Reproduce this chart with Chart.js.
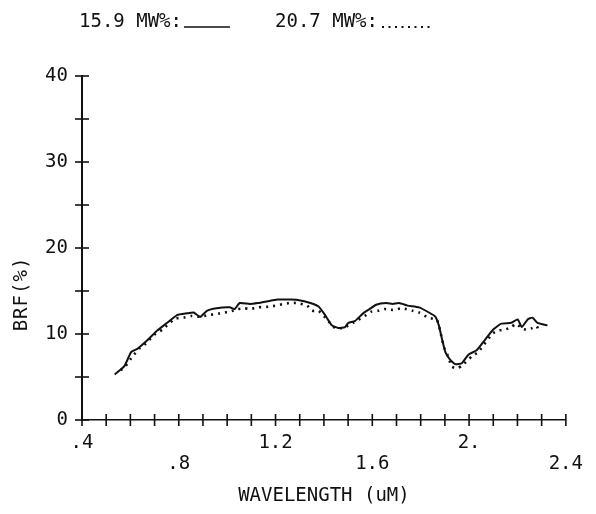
<!DOCTYPE html>
<html>
<head>
<meta charset="utf-8">
<script src="https://cdn.jsdelivr.net/npm/chart.js@4.4.1/dist/chart.umd.min.js"></script>
<style>
  html, body { margin: 0; padding: 0; background: #fff; }
  #wrap { width: 596px; height: 514px; }
</style>
</head>
<body>
<div id="wrap"><canvas id="brfChart" width="596" height="514"></canvas></div>
<script>
// Spectral BRF, two moisture levels
const seriesNames = ['15.9 MW%:', '20.7 MW%:'];

const wetWave = [0.535, 0.576, 0.603, 0.630, 0.671, 0.711, 0.752, 0.793, 0.834, 0.861,
  0.889, 0.916, 0.956, 1.011, 1.031, 1.052, 1.093, 1.127, 1.167, 1.208,
  1.262, 1.303, 1.344, 1.378, 1.405, 1.433, 1.460, 1.487, 1.501, 1.528,
  1.562, 1.589, 1.616, 1.657, 1.684, 1.711, 1.746, 1.793, 1.834, 1.861,
  1.875, 1.889, 1.902, 1.922, 1.943, 1.970, 1.997, 2.031, 2.065, 2.099,
  2.133, 2.174, 2.201, 2.218, 2.242, 2.262, 2.283, 2.324];
const wetBrf = [5.3, 6.3, 7.9, 8.3, 9.3, 10.4, 11.3, 12.2, 12.4, 12.5,
  12.0, 12.7, 13.0, 13.1, 12.9, 13.6, 13.5, 13.6, 13.8, 14.0,
  14.0, 13.9, 13.6, 13.2, 12.2, 11.0, 10.7, 10.8, 11.3, 11.5,
  12.4, 12.9, 13.4, 13.6, 13.5, 13.6, 13.3, 13.1, 12.5, 12.0,
  11.0, 9.3, 7.9, 7.0, 6.5, 6.6, 7.6, 8.1, 9.3, 10.5,
  11.2, 11.3, 11.7, 10.8, 11.7, 11.9, 11.3, 11.0];

const wetterWave = [0.560, 0.576, 0.609, 0.637, 0.664, 0.698, 0.732, 0.759, 0.787, 0.820,
  0.850, 0.885, 0.922, 0.950, 0.970, 1.010, 1.045, 1.072, 1.093, 1.130,
  1.181, 1.256, 1.290, 1.331, 1.351, 1.378, 1.412, 1.446, 1.480, 1.521,
  1.569, 1.596, 1.623, 1.650, 1.684, 1.725, 1.766, 1.793, 1.831, 1.868,
  1.889, 1.899, 1.909, 1.929, 1.950, 1.970, 2.011, 2.038, 2.095, 2.120,
  2.147, 2.174, 2.195, 2.220, 2.242, 2.262, 2.280, 2.290];
const wetterBrf = [5.8, 6.1, 7.4, 8.3, 8.9, 9.9, 10.5, 11.2, 11.8, 11.9,
  12.1, 12.0, 12.2, 12.3, 12.4, 12.6, 12.9, 13.0, 12.9, 13.1,
  13.2, 13.6, 13.6, 13.3, 12.7, 12.7, 11.7, 10.7, 10.7, 11.3,
  12.1, 12.6, 12.7, 12.9, 12.8, 13.0, 12.7, 12.5, 11.9, 11.6,
  9.3, 8.3, 7.7, 6.2, 6.0, 6.3, 7.4, 7.9, 10.0, 10.4,
  10.5, 10.8, 11.2, 10.6, 10.5, 10.7, 10.9, 10.1];

// x tick labels (every 0.4 um), alternating rows
const xTickLabels = { 4: '.4', 8: '.8', 12: '1.2', 16: '1.6', 20: '2.', 24: '2.4' };
const yTickLabels = [0, 10, 20, 30, 40];

const FONT = "'DejaVu Sans Mono', monospace";
const INK = '#111';

function toPoints(xs, ys) {
  return xs.map((x, i) => ({ x: x, y: ys[i] }));
}

// Tick marks crossing the axes, legend and y title
const plotterDecor = {
  id: 'plotterDecor',
  afterDraw(chart) {
    const ctx = chart.ctx;
    const xs = chart.scales.x;
    const ys = chart.scales.y;
    const area = chart.chartArea;
    ctx.save();
    ctx.strokeStyle = INK;
    ctx.lineWidth = 1.6;
    xs.ticks.forEach(t => {
      const px = xs.getPixelForValue(t.value);
      ctx.beginPath();
      ctx.moveTo(px, area.bottom - 6);
      ctx.lineTo(px, area.bottom + 6);
      ctx.stroke();
    });
    ys.ticks.forEach(t => {
      const py = ys.getPixelForValue(t.value);
      ctx.beginPath();
      ctx.moveTo(area.left - 7, py);
      ctx.lineTo(area.left + 7, py);
      ctx.stroke();
    });

    // legend at the top
    ctx.fillStyle = INK;
    ctx.font = '19px ' + FONT;
    ctx.textBaseline = 'alphabetic';
    ctx.textAlign = 'left';
    ctx.fillText(seriesNames[0], 79, 27);
    ctx.fillText(seriesNames[1], 275, 27);
    ctx.lineWidth = 1.5;
    ctx.beginPath();
    ctx.moveTo(184, 27);
    ctx.lineTo(230, 27);
    ctx.stroke();
    ctx.setLineDash([2, 4.5]);
    ctx.lineWidth = 2;
    ctx.beginPath();
    ctx.moveTo(382, 27);
    ctx.lineTo(432, 27);
    ctx.stroke();
    ctx.setLineDash([]);

    // y axis title
    ctx.translate(22, 294);
    ctx.rotate(-Math.PI / 2);
    ctx.textAlign = 'center';
    ctx.textBaseline = 'middle';
    ctx.font = '19px ' + FONT;
    ctx.letterSpacing = '1px';
    ctx.fillText('BRF(%)', 0, 0);
    ctx.restore();
  }
};

new Chart(document.getElementById('brfChart'), {
  type: 'line',
  data: {
    datasets: [
      {
        label: seriesNames[0],
        data: toPoints(wetWave, wetBrf),
        borderColor: INK,
        borderWidth: 2,
        pointRadius: 0,
        tension: 0.15,
        fill: false
      },
      {
        label: seriesNames[1],
        data: toPoints(wetterWave, wetterBrf),
        borderColor: INK,
        borderWidth: 2.6,
        borderDash: [2, 5],
        pointRadius: 0,
        tension: 0.15,
        fill: false
      }
    ]
  },
  options: {
    responsive: false,
    animation: false,
    layout: { padding: { top: 76, right: 24, left: 0, bottom: 0 } },
    plugins: {
      legend: { display: false },
      tooltip: { enabled: false }
    },
    scales: {
      x: {
        type: 'linear',
        min: 0.4,
        max: 2.4,
        afterFit: s => { s.height = 94; },
        grid: { display: false, drawTicks: false },
        border: { display: true, color: INK, width: 1.5 },
        ticks: {
          stepSize: 0.1,
          autoSkip: false,
          maxRotation: 0,
          padding: 13,
          color: INK,
          font: { family: FONT, size: 19, lineHeight: 1.1 },
          callback: v => {
            const i = Math.round(v * 10);
            if (!xTickLabels[i]) return '';
            return (i / 4) % 2 === 1 ? [xTickLabels[i], ''] : ['', xTickLabels[i]];
          }
        },
        title: {
          display: true,
          text: 'WAVELENGTH (uM)',
          color: INK,
          font: { family: FONT, size: 19 },
          padding: { top: 0, bottom: 7 }
        }
      },
      y: {
        min: 0,
        max: 40,
        afterFit: s => { s.width = 82; },
        grid: { display: false, drawTicks: false },
        border: { display: true, color: INK, width: 2 },
        ticks: {
          stepSize: 5,
          padding: 14,
          color: INK,
          font: { family: FONT, size: 19 },
          callback: v => yTickLabels.includes(v) ? String(v) : ''
        }
      }
    }
  },
  plugins: [plotterDecor]
});
</script>
</body>
</html>
